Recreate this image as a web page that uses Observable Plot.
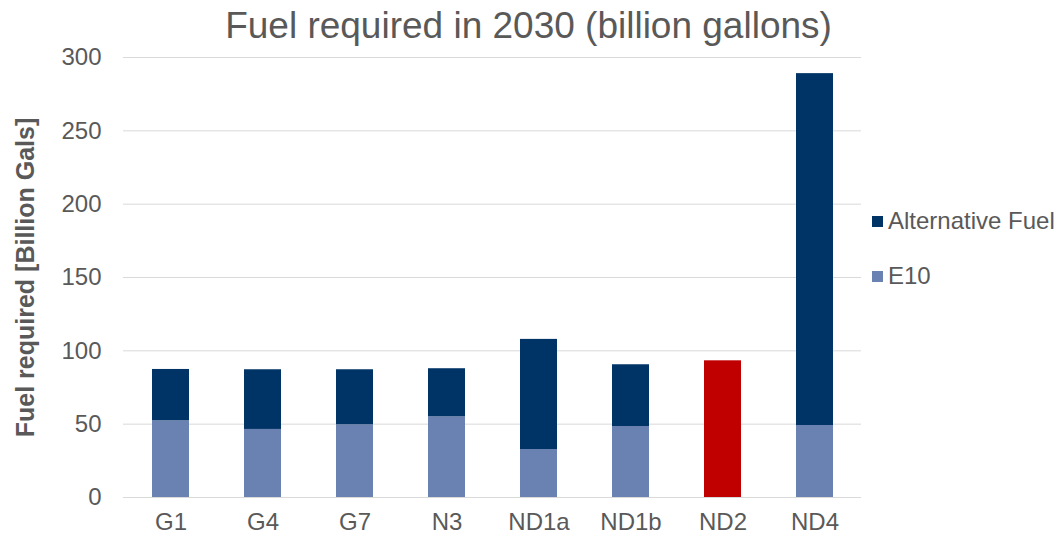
<!DOCTYPE html>
<html>
<head>
<meta charset="utf-8">
<script src="https://cdn.jsdelivr.net/npm/d3@7"></script>
<script src="https://cdn.jsdelivr.net/npm/@observablehq/plot@0.6"></script>
<style>
  body { margin: 0; background: #fff; font-family: "Liberation Sans", Arial, sans-serif; }
  #wrap { position: relative; width: 1057px; height: 539px; overflow: hidden; }
  #title { position: absolute; left: 0; top: 0; width: 1057px; height: 52px; line-height: 52px; text-align: center; font-size: 37px; color: #595959; white-space: nowrap; }
  #legend { position: absolute; left: 872px; top: 206px; color: #595959; font-size: 24px; white-space: nowrap; }
  #legend .item { display: flex; align-items: center; height: 30px; margin-bottom: 25px; }
  #legend .sw { width: 11px; height: 11px; margin-right: 5px; flex: none; }
  svg { display: block; }
</style>
</head>
<body>
<div id="wrap">
  <div id="chart"></div>
  <div id="title">Fuel required in 2030 (billion gallons)</div>
  <div id="legend"></div>
</div>
<script>
// Scenario categories along the x axis
const categories = ["G1", "G4", "G7", "N3", "ND1a", "ND1b", "ND2", "ND4"];
// E10 volume per scenario (billion gallons)
const e10 = [52.3, 46.4, 49.6, 55.0, 32.7, 48.4, null, 49.1];
// Alternative fuel volume stacked on top of E10
const alternativeFuel = [35.0, 40.7, 37.5, 32.8, 75.1, 42.1, null, 239.9];
// ND2 is shown as a single highlighted total
const highlighted = [null, null, null, null, null, null, 93.2, null];
const yTicks = [0, 50, 100, 150, 200, 250, 300];

const seriesNames = ["E10", "Alternative Fuel", "ND2 total"];
const seriesColors = ["#6A82B2", "#003366", "#C00000"];

// Long-form rows, E10 first so it sits at the bottom of each stack
const rows = [];
[e10, alternativeFuel, highlighted].forEach((vals, s) => {
  vals.forEach((v, i) => {
    if (v != null) rows.push({ category: categories[i], series: seriesNames[s], value: v });
  });
});

const chart = Plot.plot({
  width: 1057,
  height: 539,
  marginTop: 57,
  marginBottom: 42,
  marginLeft: 123,
  marginRight: 196,
  style: { fontFamily: "'Liberation Sans', Arial, sans-serif", color: "#595959", background: "#fff" },
  x: { type: "band", domain: categories, paddingInner: 0.6, paddingOuter: 0.3, label: null },
  y: { domain: [0, 300], label: null },
  color: { domain: seriesNames, range: seriesColors },
  marks: [
    Plot.gridY(yTicks, { stroke: "#d9d9d9", strokeOpacity: 1, strokeWidth: 1 }),
    Plot.barY(rows, { x: "category", y: "value", fill: "series" }),
    Plot.axisY(yTicks, { tickSize: 0, tickPadding: 22, fontSize: 24, fill: "#595959", label: null }),
    Plot.axisX({ tickSize: 0, tickPadding: 15, fontSize: 24, fill: "#595959", label: null }),
    Plot.text(["Fuel required [Billion Gals]"], {
      frameAnchor: "left", dx: -98, rotate: -90, textAnchor: "middle",
      fontSize: 25, fontWeight: "bold", fill: "#595959"
    })
  ]
});
document.getElementById("chart").appendChild(chart);

// Legend on the right: Alternative Fuel above E10
const legend = document.getElementById("legend");
[["Alternative Fuel", seriesColors[1]], ["E10", seriesColors[0]]].forEach(([name, color]) => {
  const item = document.createElement("div");
  item.className = "item";
  const sw = document.createElement("span");
  sw.className = "sw";
  sw.style.background = color;
  const label = document.createElement("span");
  label.textContent = name;
  item.appendChild(sw);
  item.appendChild(label);
  legend.appendChild(item);
});
</script>
</body>
</html>
